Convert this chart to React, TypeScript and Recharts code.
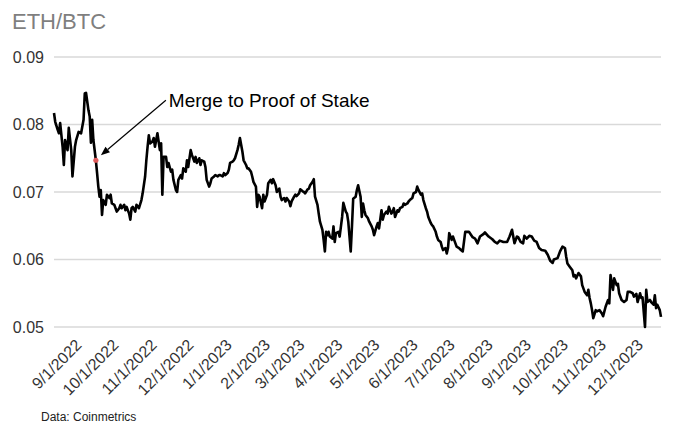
import { LineChart, Line, XAxis, YAxis, CartesianGrid, ReferenceDot } from 'recharts';

// month labels on the date axis
const tickLabels = [
  '9/1/2022', '10/1/2022', '11/1/2022', '12/1/2022',
  '1/1/2023', '2/1/2023', '3/1/2023', '4/1/2023', '5/1/2023', '6/1/2023',
  '7/1/2023', '8/1/2023', '9/1/2023', '10/1/2023', '11/1/2023', '12/1/2023',
];

const yTicks = [0.05, 0.06, 0.07, 0.08, 0.09];

// days since 9/1/2022
const dayOffsets = [
  -20, -19, -17, -16, -15, -13, -12, -11, -9, -8,
  -6, -5, -3, -2, 0, 2, 4, 5, 6, 8,
  9, 10, 11, 12, 14, 15, 16, 17, 18, 19,
  20, 22, 23, 25, 26, 27, 29, 30, 31, 33,
  34, 35, 37, 38, 39, 41, 42, 43, 44, 46,
  47, 49, 51, 52, 54, 55, 56, 57, 58, 60,
  61, 62, 64, 66, 67, 68, 69, 71, 72, 73,
  75, 76, 77, 79, 80, 81, 83, 84, 85, 87,
  88, 89, 91, 92, 94, 95, 96, 98, 99, 100,
  102, 103, 104, 106, 107, 108, 110, 111, 113, 114,
  115, 117, 118, 119, 121, 122, 123, 125, 126, 127,
  129, 130, 131, 133, 134, 136, 137, 138, 140, 141,
  142, 144, 145, 146, 147, 149, 150, 151, 153, 154,
  156, 157, 158, 160, 161, 163, 164, 165, 167, 168,
  169, 171, 172, 173, 175, 176, 177, 179, 180, 182,
  183, 184, 186, 187, 188, 190, 191, 192, 194, 195,
  196, 198, 199, 200, 201, 202, 203, 204, 206, 207,
  208, 209, 211, 212, 214, 215, 217, 218, 219, 221,
  222, 223, 225, 226, 227, 229, 230, 231, 232, 233,
  235, 236, 238, 239, 240, 242, 243, 244, 246, 247,
  248, 250, 251, 252, 254, 255, 256, 257, 259, 260,
  261, 263, 264, 265, 267, 268, 269, 271, 272, 274,
  275, 276, 278, 279, 280, 282, 283, 284, 286, 287,
  288, 290, 291, 292, 294, 295, 296, 298, 299, 300,
  301, 303, 304, 305, 307, 309, 310, 312, 314, 317,
  320, 322, 324, 326, 329, 330, 333, 336, 338, 340,
  342, 345, 348, 350, 352, 354, 356, 357, 359, 361,
  362, 364, 366, 368, 370, 372, 374, 376, 379, 381,
  383, 385, 386, 389, 391, 393, 395, 396, 397, 399,
  401, 402, 403, 404, 406, 408, 409, 411, 413, 414,
  415, 416, 417, 418, 420, 421, 423, 425, 426, 428,
  430, 431, 432, 434, 435, 437, 438, 439, 441, 443,
  445, 446, 448, 450, 451, 453, 454, 456, 457, 458,
  460, 461, 462, 464, 465, 467, 468, 469, 470, 472, 473,
];

const ethBtc = [
  0.0817, 0.0804, 0.0792, 0.0787, 0.0802, 0.0767, 0.0740, 0.0777, 0.0762, 0.0795,
  0.0762, 0.0723, 0.0767, 0.0777, 0.0789, 0.0787, 0.0807, 0.0846, 0.0847, 0.0821,
  0.0812, 0.0773, 0.0807, 0.0777, 0.0747, 0.0728, 0.0708, 0.0693, 0.0703, 0.0666,
  0.0688, 0.0681, 0.0696, 0.0691, 0.0696, 0.0683, 0.0681, 0.0676, 0.0671, 0.0676,
  0.0681, 0.0676, 0.0681, 0.0673, 0.0678, 0.0668, 0.0659, 0.0676, 0.0678, 0.0671,
  0.0681, 0.0676, 0.0688, 0.0698, 0.0723, 0.0747, 0.0767, 0.0784, 0.0772, 0.0775,
  0.0780, 0.0767, 0.0787, 0.0762, 0.0772, 0.0696, 0.0752, 0.0752, 0.0737, 0.0743,
  0.0730, 0.0733, 0.0718, 0.0703, 0.0700, 0.0718, 0.0725, 0.0720, 0.0735, 0.0730,
  0.0747, 0.0737, 0.0762, 0.0755, 0.0745, 0.0752, 0.0743, 0.0750, 0.0740, 0.0747,
  0.0745, 0.0737, 0.0718, 0.0708, 0.0713, 0.0720, 0.0723, 0.0725, 0.0723, 0.0725,
  0.0725, 0.0723, 0.0728, 0.0725, 0.0728, 0.0733, 0.0743, 0.0745, 0.0747, 0.0750,
  0.0762, 0.0770, 0.0780, 0.0760, 0.0747, 0.0740, 0.0735, 0.0735, 0.0730, 0.0723,
  0.0715, 0.0708, 0.0678, 0.0696, 0.0693, 0.0676, 0.0696, 0.0686, 0.0696, 0.0713,
  0.0718, 0.0713, 0.0719, 0.0710, 0.0700, 0.0705, 0.0693, 0.0688, 0.0691, 0.0686,
  0.0691, 0.0686, 0.0679, 0.0686, 0.0693, 0.0696, 0.0694, 0.0698, 0.0704, 0.0701,
  0.0700, 0.0698, 0.0704, 0.0705, 0.0710, 0.0715, 0.0719, 0.0693, 0.0681, 0.0668,
  0.0656, 0.0644, 0.0629, 0.0612, 0.0641, 0.0636, 0.0641, 0.0634, 0.0631, 0.0649,
  0.0626, 0.0639, 0.0641, 0.0634, 0.0663, 0.0684, 0.0671, 0.0668, 0.0656, 0.0612,
  0.0649, 0.0690, 0.0693, 0.0703, 0.0710, 0.0693, 0.0663, 0.0683, 0.0673, 0.0666,
  0.0661, 0.0656, 0.0649, 0.0644, 0.0636, 0.0649, 0.0654, 0.0646, 0.0673, 0.0659,
  0.0666, 0.0671, 0.0668, 0.0678, 0.0668, 0.0671, 0.0676, 0.0663, 0.0673, 0.0671,
  0.0676, 0.0678, 0.0683, 0.0681, 0.0683, 0.0686, 0.0688, 0.0691, 0.0698, 0.0700,
  0.0708, 0.0703, 0.0696, 0.0698, 0.0688, 0.0676, 0.0671, 0.0663, 0.0654, 0.0651,
  0.0649, 0.0641, 0.0634, 0.0629, 0.0626, 0.0619, 0.0614, 0.0617, 0.0609, 0.0617,
  0.0639, 0.0629, 0.0634, 0.0629, 0.0619, 0.0617, 0.0615, 0.0612, 0.0641, 0.0641,
  0.0633, 0.0631, 0.0624, 0.0634, 0.0638, 0.0640, 0.0634, 0.0630, 0.0626, 0.0624,
  0.0628, 0.0626, 0.0626, 0.0634, 0.0644, 0.0624, 0.0634, 0.0633, 0.0626, 0.0624,
  0.0635, 0.0631, 0.0635, 0.0634, 0.0628, 0.0626, 0.0617, 0.0614, 0.0613, 0.0607,
  0.0598, 0.0595, 0.0600, 0.0602, 0.0612, 0.0619, 0.0617, 0.0604, 0.0594, 0.0589,
  0.0584, 0.0575, 0.0577, 0.0572, 0.0580, 0.0575, 0.0562, 0.0552, 0.0547, 0.0555,
  0.0543, 0.0535, 0.0525, 0.0513, 0.0525, 0.0523, 0.0525, 0.0520, 0.0516, 0.0530,
  0.0540, 0.0535, 0.0577, 0.0555, 0.0572, 0.0562, 0.0564, 0.0550, 0.0540, 0.0537,
  0.0540, 0.0552, 0.0552, 0.0550, 0.0545, 0.0549, 0.0537, 0.0550, 0.0543, 0.0544,
  0.0500, 0.0555, 0.0537, 0.0540, 0.0537, 0.0533, 0.0547, 0.0528, 0.0533, 0.0525, 0.0515,
];

const MERGE_DAY = 14; // 9/15/2022

const FONT = '"Liberation Sans", Arial, Helvetica, sans-serif';

const base = Date.UTC(2022, 8, 1);
const toDay = (label: string) => {
  const [m, d, y] = label.split('/').map(Number);
  return Math.round((Date.UTC(y, m - 1, d) - base) / 86400000);
};
const tickDays = tickLabels.map(toDay);
const labelByDay = new Map(tickDays.map((d, i) => [d, tickLabels[i]]));

const data = dayOffsets.map((day, i) => ({ day, value: ethBtc[i] }));
const mergeValue = ethBtc[dayOffsets.indexOf(MERGE_DAY)];

function DateTick({ x, y, payload }: any) {
  const ax = x + 4;
  const ay = y + 11;
  return (
    <text
      x={ax}
      y={ay}
      textAnchor="end"
      fontSize={16}
      fill="#333"
      transform={`rotate(-45, ${ax}, ${ay})`}
    >
      {labelByDay.get(payload.value)}
    </text>
  );
}

function MergeMarker({ cx, cy }: any) {
  // arrow from the label down to the merge day
  const sx = cx + 70, sy = cy - 60;
  const tx = cx + 5, ty = cy - 5;
  const len = Math.hypot(tx - sx, ty - sy);
  const ux = (tx - sx) / len, uy = (ty - sy) / len;
  const bx = tx - ux * 9, by = ty - uy * 9;
  const head = `${tx},${ty} ${bx - uy * 3.5},${by + ux * 3.5} ${bx + uy * 3.5},${by - ux * 3.5}`;
  return (
    <g>
      <line x1={sx} y1={sy} x2={bx} y2={by} stroke="#000" strokeWidth={1.2} />
      <polygon points={head} fill="#000" />
      <circle cx={cx} cy={cy} r={2.6} fill="#e05a5a" />
      <text x={cx + 73} y={cy - 53} fontSize={19} fill="#000">
        Merge to Proof of Stake
      </text>
    </g>
  );
}

export default function App() {
  return (
    <div style={{ position: 'relative', width: 680, height: 428, fontFamily: FONT, background: '#fff' }}>
      <style>{'body{margin:0}'}</style>
      <LineChart
        width={680}
        height={428}
        data={data}
        margin={{ top: 57, right: 19, bottom: 21, left: 4 }}
      >
        <CartesianGrid vertical={false} stroke="#d9d9d9" strokeWidth={1.3} />
        <XAxis
          dataKey="day"
          type="number"
          domain={[-20, 473]}
          ticks={tickDays}
          interval={0}
          height={80}
          axisLine={false}
          tickLine={false}
          tick={<DateTick />}
        />
        <YAxis
          domain={[0.05, 0.09]}
          ticks={yTicks}
          width={50}
          axisLine={false}
          tickLine={false}
          tickMargin={4}
          tickFormatter={(v: number) => v.toFixed(2)}
          tick={{ fontSize: 16, fill: '#333' }}
        />
        <Line
          type="linear"
          dataKey="value"
          stroke="#000"
          strokeWidth={2.6}
          strokeLinejoin="round"
          dot={false}
          isAnimationActive={false}
        />
        <ReferenceDot
          x={MERGE_DAY}
          y={mergeValue}
          r={3}
          shape={(p: any) => <MergeMarker {...p} />}
        />
      </LineChart>
      <svg
        width={680}
        height={428}
        style={{ position: 'absolute', left: 0, top: 0, pointerEvents: 'none' }}
      >
        <text x={12} y={29} fontSize={22} fill="#7f7f7f">ETH/BTC</text>
        <text x={41} y={421} fontSize={12} fill="#222">Data: Coinmetrics</text>
      </svg>
    </div>
  );
}
